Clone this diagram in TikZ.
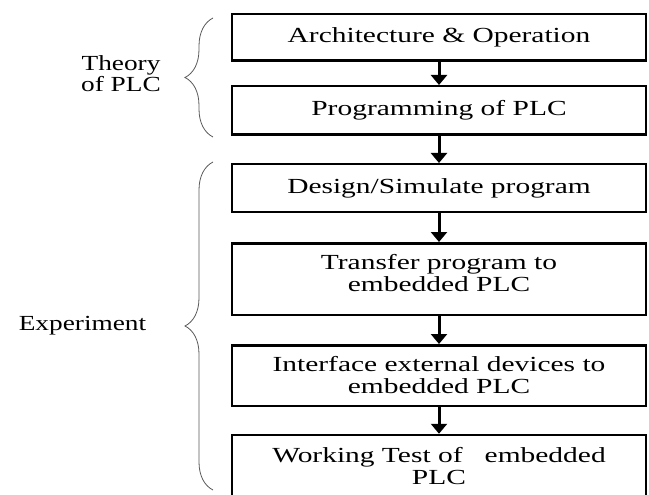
\documentclass[tikz,border=0pt]{standalone}
\usepackage{fontspec}
\setmainfont{Liberation Serif}
\newfontfamily\boxfont{Liberation Serif}[FakeStretch=1.37]
\newfontfamily\labelfont{Liberation Serif}[FakeStretch=1.27]
\usetikzlibrary{arrows.meta,decorations.pathreplacing}
\begin{document}
\begin{tikzpicture}[x=1pt,y=-1pt,
  stagebox/.style={draw,line width=2.5pt,minimum width=414pt,inner sep=0pt,
    align=center,font=\boxfont\fontsize{21.5}{22}\selectfont},
  flow/.style={-{Triangle[width=16pt,length=10pt]},line width=3pt},
  groupbrace/.style={decorate,decoration={brace,amplitude=28pt},
    line width=0.8pt,gray!70!black},
  grouplabel/.style={align=center,font=\labelfont\fontsize{21.5}{21}\selectfont}]
\clip (0,0) rectangle (649,495);
% theory part
\begin{scope}
\node[stagebox,minimum height=46.5pt] (arch) at (439,37.5) {Architecture \& Operation};
\node[stagebox,minimum height=48.5pt] (prog) at (439,110.5) {Programming of PLC};
\draw[flow] (arch) -- (prog);
\draw[groupbrace] (213,137) -- (213,18);
\node[grouplabel] (theory) at (121,74) {Theory\\of PLC};
\end{scope}
% experiment part
\begin{scope}
\node[stagebox,minimum height=47.5pt] (design) at (439,188) {Design/Simulate program};
\node[stagebox,minimum height=71.5pt,text depth=12pt] (transfer) at (439,279) {Transfer program to\\embedded PLC};
\node[stagebox,minimum height=60.5pt] (iface) at (439,375.5) {Interface external devices to\\embedded PLC};
\node[stagebox,minimum height=62pt] (test) at (439,466) {Working Test of \ \ embedded\\PLC};
\draw[flow] (prog) -- (design);
\draw[flow] (design) -- (transfer);
\draw[flow] (transfer) -- (iface);
\draw[flow] (iface) -- (test);
\draw[groupbrace] (213,490) -- (213,162);
\node[grouplabel,anchor=base] (experiment) at (82.5,330) {Experiment};
\end{scope}
\end{tikzpicture}
\end{document}
